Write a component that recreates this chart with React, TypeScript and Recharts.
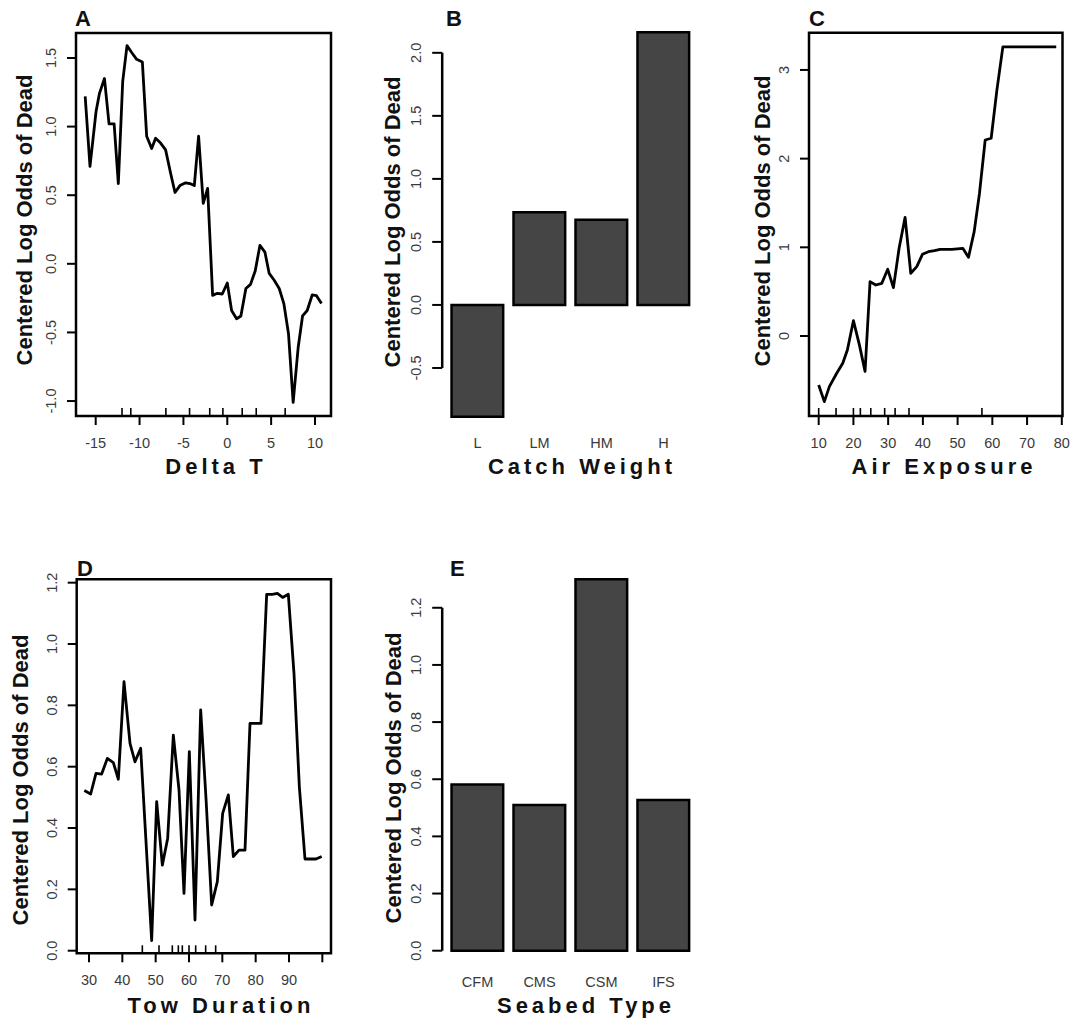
import React from 'react';
import { ComposedChart, Line, Scatter, Bar, XAxis, YAxis, ReferenceArea, ReferenceLine } from 'recharts';

const FONT = '"Liberation Sans", Arial, Helvetica, sans-serif';
const W = 1070;
const H = 1035;

// ---------- Panel A: Delta T ----------
const deltaT = [-16.2, -15.65, -14.96, -14.58, -14.0, -13.48, -12.9, -12.42, -11.92, -11.43, -10.9, -10.33, -9.68, -9.19, -8.62, -8.17, -7.6, -7.03, -6.46, -5.96, -5.4, -4.75, -4.26, -3.76, -3.27, -2.74, -2.24, -1.67, -1.14, -0.57, 0.0, 0.49, 1.06, 1.55, 2.12, 2.65, 3.19, 3.72, 4.29, 4.78, 5.35, 5.92, 6.45, 6.98, 7.51, 8.08, 8.58, 9.11, 9.68, 10.17, 10.74];
const deltaTEffect = [1.22, 0.71, 1.11, 1.24, 1.35, 1.02, 1.02, 0.585, 1.33, 1.59, 1.54, 1.49, 1.47, 0.93, 0.84, 0.915, 0.88, 0.83, 0.66, 0.52, 0.57, 0.59, 0.585, 0.57, 0.93, 0.44, 0.55, -0.23, -0.215, -0.22, -0.14, -0.34, -0.4, -0.38, -0.18, -0.15, -0.05, 0.134, 0.085, -0.07, -0.12, -0.18, -0.29, -0.51, -1.01, -0.61, -0.38, -0.34, -0.227, -0.232, -0.29];
const deltaTRug = [-12, -11, -7, -4.3, -2, -0.5, 1.7, 3.3, 6.6];
const deltaTXTicks = [-15, -10, -5, 0, 5, 10];
const deltaTYTicks = [-1, -0.5, 0, 0.5, 1, 1.5];

// ---------- Panel B: Catch Weight ----------
const catchCats = ['L', 'LM', 'HM', 'H'];
const catchVals = [-0.886, 0.736, 0.675, 2.164];
const catchYTicks = [-0.5, 0, 0.5, 1, 1.5, 2];

// ---------- Panel C: Air Exposure ----------
const airX = [10, 11.63, 13.07, 15.19, 16.92, 18.26, 20.0, 21.72, 23.35, 24.79, 26.43, 28.16, 29.88, 31.52, 33.15, 34.88, 36.51, 38.24, 39.87, 41.6, 43.33, 44.97, 48.33, 51.5, 53.13, 54.77, 56.3, 57.94, 59.66, 61.3, 63.03, 78.4];
const airEffect = [-0.553, -0.74, -0.571, -0.42, -0.308, -0.158, 0.173, -0.1, -0.4, 0.613, 0.575, 0.594, 0.752, 0.545, 0.989, 1.338, 0.707, 0.782, 0.921, 0.951, 0.962, 0.977, 0.977, 0.989, 0.887, 1.177, 1.61, 2.21, 2.23, 2.77, 3.26, 3.26];
const airRug = [10, 15, 20, 22, 25, 29, 32, 36, 57];
const airXTicks = [10, 20, 30, 40, 50, 60, 70, 80];
const airYTicks = [0, 1, 2, 3];

// ---------- Panel D: Tow Duration ----------
const towX = [28.6, 30.5, 32.1, 33.8, 35.5, 37.3, 38.8, 40.5, 42.3, 43.8, 45.5, 48.8, 50.3, 52.0, 53.6, 55.3, 57.0, 58.5, 60.1, 61.8, 63.5, 65.1, 66.8, 68.5, 70.1, 71.8, 73.3, 75.0, 76.8, 78.3, 81.6, 83.3, 85.0, 86.5, 88.1, 89.8, 91.5, 93.1, 94.8, 96.5, 98.1, 99.8];
const towEffect = [0.522, 0.511, 0.578, 0.576, 0.627, 0.613, 0.559, 0.877, 0.676, 0.616, 0.66, 0.033, 0.486, 0.279, 0.366, 0.703, 0.524, 0.187, 0.649, 0.1, 0.785, 0.497, 0.149, 0.225, 0.448, 0.508, 0.307, 0.328, 0.328, 0.741, 0.741, 1.162, 1.162, 1.165, 1.152, 1.162, 0.904, 0.535, 0.299, 0.299, 0.299, 0.307];
const towRug = [46, 51, 55, 56.8, 58, 60, 62, 65, 68];
const towXTicks = [30, 40, 50, 60, 70, 80, 90, 100];
const towXLabels = ['30', '40', '50', '60', '70', '80', '90', ''];
const towYTicks = [0, 0.2, 0.4, 0.6, 0.8, 1.0, 1.2];

// ---------- Panel E: Seabed Type ----------
const seabedCats = ['CFM', 'CMS', 'CSM', 'IFS'];
const seabedVals = [0.582, 0.51, 1.3, 0.527];
const seabedYTicks = [0, 0.2, 0.4, 0.6, 0.8, 1.0, 1.2];

// barplot layout (R convention: width 1, space 0.2)
const BAR_START = 0.7;
const BAR_STEP = 1.2;
const BAR_XDOMAIN: [number, number] = [0.016, 4.984];

const TICK_FONT = 14.5;
const TICK_COLOR = '#3a3a3a';

type Plot = { left: number; right: number; top: number; bottom: number };

const yTick = (fmt: (v: number) => string, off: number) => (p: any) => {
  const tx = p.x - off;
  return (
    <text x={tx} y={p.y} transform={`rotate(-90 ${tx} ${p.y})`} textAnchor="middle" fontSize={TICK_FONT} fill={TICK_COLOR} fontFamily={FONT}>
      {fmt(p.payload.value)}
    </text>
  );
};

const xTick = (labelOf: (v: number, i: number) => string, dy: number) => (p: any) => (
  <text x={p.x} y={p.y + dy} textAnchor="middle" fontSize={TICK_FONT} fill={TICK_COLOR} fontFamily={FONT}>
    {labelOf(p.payload.value, p.index)}
  </text>
);

function LinePanel(props: {
  xs: number[]; ys: number[]; rug: number[];
  xDomain: [number, number]; yDomain: [number, number];
  xTicks: number[]; xLabels?: string[]; yTicks: number[]; yFmt: (v: number) => string;
  plot: Plot;
}) {
  const { xs, ys, rug, xDomain, yDomain, xTicks, xLabels, yTicks, yFmt, plot } = props;
  const data = xs.map((x, i) => ({ x, y: ys[i] }));
  const rugData = rug.map((x) => ({ x, y: yDomain[0] }));
  const margin = { left: plot.left - 40, right: W - plot.right, top: plot.top, bottom: H - plot.bottom - 40 };
  return (
    <div style={{ position: 'absolute', left: 0, top: 0 }}>
      <ComposedChart width={W} height={H} data={data} margin={margin}>
        <XAxis
          type="number" dataKey="x" domain={xDomain} ticks={xTicks} interval={0}
          height={40} tickSize={9} tickMargin={0} axisLine={false}
          tickLine={{ stroke: '#000', strokeWidth: 2 }}
          tick={xTick((v, i) => (xLabels ? xLabels[i] : String(v)), 23)}
        />
        <YAxis
          type="number" domain={yDomain} ticks={yTicks} interval={0}
          width={40} tickSize={9} tickMargin={0} axisLine={false}
          tickLine={{ stroke: '#000', strokeWidth: 2 }}
          tick={yTick(yFmt, 11)}
        />
        <ReferenceArea
          x1={xDomain[0]} x2={xDomain[1]} y1={yDomain[0]} y2={yDomain[1]}
          fill="none" stroke="#000" strokeWidth={2.5} ifOverflow="visible"
        />
        <Line type="linear" dataKey="y" stroke="#000" strokeWidth={2.8} dot={false} isAnimationActive={false} strokeLinejoin="round" />
        <Scatter
          data={rugData} dataKey="y" isAnimationActive={false}
          shape={(s: any) => <line x1={s.cx} x2={s.cx} y1={s.cy} y2={s.cy - 8} stroke="#000" strokeWidth={1.6} />}
        />
      </ComposedChart>
    </div>
  );
}

function BarPanel(props: {
  cats: string[]; vals: number[]; yDomain: [number, number]; yTicks: number[];
  plot: Plot; labelDy: number;
}) {
  const { cats, vals, yDomain, yTicks, plot, labelDy } = props;
  const data = cats.map((c, i) => ({ pos: BAR_START + i * BAR_STEP, v: vals[i], c }));
  const margin = { left: plot.left - 40, right: W - plot.right, top: plot.top, bottom: H - plot.bottom - 40 };
  const pxPerUnit = (plot.right - plot.left) / (BAR_XDOMAIN[1] - BAR_XDOMAIN[0]);
  return (
    <div style={{ position: 'absolute', left: 0, top: 0 }}>
      <ComposedChart width={W} height={H} data={data} margin={margin}>
        <XAxis
          type="number" dataKey="pos" domain={BAR_XDOMAIN} ticks={data.map((d) => d.pos)} interval={0}
          height={40} tickSize={0} tickMargin={0} axisLine={false} tickLine={false}
          tick={xTick((_v, i) => cats[i], labelDy)}
        />
        <YAxis
          type="number" domain={yDomain} ticks={yTicks} interval={0}
          width={40} tickSize={10} tickMargin={0} axisLine={false}
          tickLine={{ stroke: '#000', strokeWidth: 2 }}
          tick={yTick((v) => v.toFixed(1), 11)}
        />
        <ReferenceLine
          segment={[{ x: BAR_XDOMAIN[0], y: yTicks[0] }, { x: BAR_XDOMAIN[0], y: yTicks[yTicks.length - 1] }]}
          stroke="#000" strokeWidth={2.5} ifOverflow="visible"
        />
        <Bar dataKey="v" fill="#454545" stroke="#000" strokeWidth={2.5} barSize={pxPerUnit} isAnimationActive={false} />
      </ComposedChart>
    </div>
  );
}

const yTitles = [
  { x: 32, y: 220 },
  { x: 400, y: 222 },
  { x: 770, y: 221 },
  { x: 27.5, y: 780 },
  { x: 401, y: 778 },
];
const xTitles = [
  { t: 'Delta T', x: 216, y: 474 },
  { t: 'Catch Weight', x: 582, y: 474 },
  { t: 'Air Exposure', x: 944, y: 474 },
  { t: 'Tow Duration', x: 221, y: 1013 },
  { t: 'Seabed Type', x: 586, y: 1013 },
];
const panelLetters = [
  { t: 'A', x: 75, y: 26 },
  { t: 'B', x: 446, y: 26 },
  { t: 'C', x: 809, y: 26 },
  { t: 'D', x: 77, y: 576 },
  { t: 'E', x: 450, y: 576 },
];

export default function App() {
  return (
    <div style={{ position: 'absolute', left: 0, top: 0, width: W, height: H, background: '#fff', overflow: 'hidden' }}>
      <LinePanel
        xs={deltaT} ys={deltaTEffect} rug={deltaTRug}
        xDomain={[-17.246, 11.824]} yDomain={[-1.109, 1.682]}
        xTicks={deltaTXTicks} yTicks={deltaTYTicks} yFmt={(v) => v.toFixed(1)}
        plot={{ left: 76, right: 331, top: 33, bottom: 416 }}
      />
      <BarPanel
        cats={catchCats} vals={catchVals} yDomain={[-1, 2.3]} yTicks={catchYTicks}
        plot={{ left: 442.2, right: 698.8, top: 15, bottom: 431 }} labelDy={17}
      />
      <LinePanel
        xs={airX} ys={airEffect} rug={airRug}
        xDomain={[7.21, 80.2]} yDomain={[-0.902, 3.42]}
        xTicks={airXTicks} yTicks={airYTicks} yFmt={(v) => String(v)}
        plot={{ left: 809, right: 1062.5, top: 32.7, bottom: 416 }}
      />
      <LinePanel
        xs={towX} ys={towEffect} rug={towRug}
        xDomain={[26.31, 102.6]} yDomain={[-0.0085, 1.211]}
        xTicks={towXTicks} xLabels={towXLabels} yTicks={towYTicks} yFmt={(v) => v.toFixed(1)}
        plot={{ left: 76.7, right: 331, top: 579.3, bottom: 953.3 }}
      />
      <BarPanel
        cats={seabedCats} vals={seabedVals} yDomain={[0, 1.35]} yTicks={seabedYTicks}
        plot={{ left: 442.2, right: 698.8, top: 564.9, bottom: 950.7 }} labelDy={36}
      />
      <svg width={W} height={H} style={{ position: 'absolute', left: 0, top: 0, pointerEvents: 'none' }}>
        {yTitles.map((p, i) => (
          <text key={'y' + i} x={p.x} y={p.y} transform={`rotate(-90 ${p.x} ${p.y})`} textAnchor="middle"
            fontSize={22} fontWeight="bold" fill="#111" fontFamily={FONT}>
            Centered Log Odds of Dead
          </text>
        ))}
        {xTitles.map((p, i) => (
          <text key={'x' + i} x={p.x} y={p.y} textAnchor="middle" fontSize={22} fontWeight="bold"
            letterSpacing={4} fill="#111" fontFamily={FONT}>
            {p.t}
          </text>
        ))}
        {panelLetters.map((p, i) => (
          <text key={'l' + i} x={p.x} y={p.y} fontSize={22} fontWeight="bold" fill="#111" fontFamily={FONT}>
            {p.t}
          </text>
        ))}
      </svg>
    </div>
  );
}
